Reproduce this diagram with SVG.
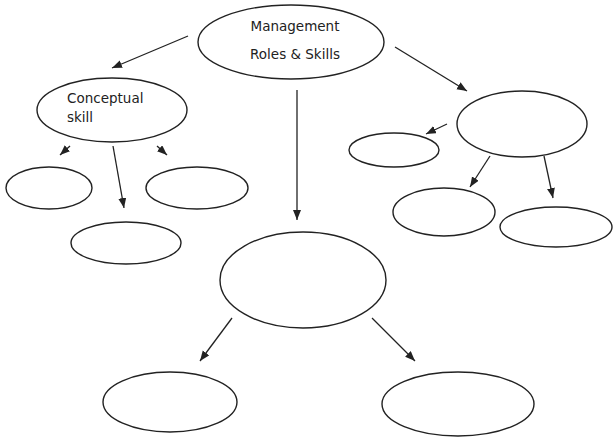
<svg xmlns="http://www.w3.org/2000/svg" width="616" height="437" viewBox="0 0 616 437">
<style>
.n{fill:#fff;stroke:#222;stroke-width:1.4}
.c{stroke:#222;stroke-width:1.3;fill:none;marker-end:url(#ah)}
text{font-family:"DejaVu Sans","Liberation Sans",sans-serif;font-size:13.5px;fill:#222}
</style>
<defs>
<marker id="ah" markerUnits="userSpaceOnUse" markerWidth="11" markerHeight="9" refX="10" refY="4" orient="auto">
<path d="M0,0 L10,4 L0,8 z" fill="#222"/>
</marker>
</defs>
<rect width="616" height="437" fill="#fff"/>
<g id="connectors">
<line class="c" x1="188" y1="36" x2="112" y2="68"/>
<line class="c" x1="395" y1="47" x2="467" y2="91"/>
<line class="c" x1="297" y1="90" x2="297" y2="220"/>
<line class="c" x1="70" y1="146" x2="60" y2="155"/>
<line class="c" x1="157" y1="146" x2="167" y2="155"/>
<line class="c" x1="113" y1="146" x2="124" y2="208"/>
<line class="c" x1="447" y1="124" x2="426" y2="134"/>
<line class="c" x1="490" y1="156" x2="470" y2="187"/>
<line class="c" x1="544" y1="156" x2="553" y2="198"/>
<line class="c" x1="232" y1="318" x2="200" y2="361"/>
<line class="c" x1="372" y1="318" x2="415" y2="361"/>
</g>
<g id="root"><ellipse class="n" cx="291" cy="42" rx="93" ry="37"/>
<text x="295" y="31" text-anchor="middle">Management</text>
<text x="295" y="59" text-anchor="middle">Roles &amp; Skills</text></g>
<g id="conceptual"><ellipse class="n" cx="112" cy="110" rx="75" ry="32"/>
<text x="67" y="103">Conceptual</text>
<text x="67" y="122">skill</text></g>
<g id="c1"><ellipse class="n" cx="49" cy="188" rx="43" ry="21"/></g>
<g id="c2"><ellipse class="n" cx="197" cy="188" rx="51" ry="21"/></g>
<g id="c3"><ellipse class="n" cx="126" cy="243" rx="55" ry="21"/></g>
<g id="right"><ellipse class="n" cx="522" cy="124" rx="65" ry="33"/></g>
<g id="r1"><ellipse class="n" cx="394" cy="150" rx="45" ry="17"/></g>
<g id="r2"><ellipse class="n" cx="444" cy="212" rx="51" ry="24"/></g>
<g id="r3"><ellipse class="n" cx="556" cy="227" rx="56" ry="20"/></g>
<g id="center"><ellipse class="n" cx="303" cy="280" rx="83" ry="48"/></g>
<g id="m1"><ellipse class="n" cx="170" cy="402" rx="67" ry="30"/></g>
<g id="m2"><ellipse class="n" cx="458" cy="404" rx="76" ry="32"/></g>
</svg>
